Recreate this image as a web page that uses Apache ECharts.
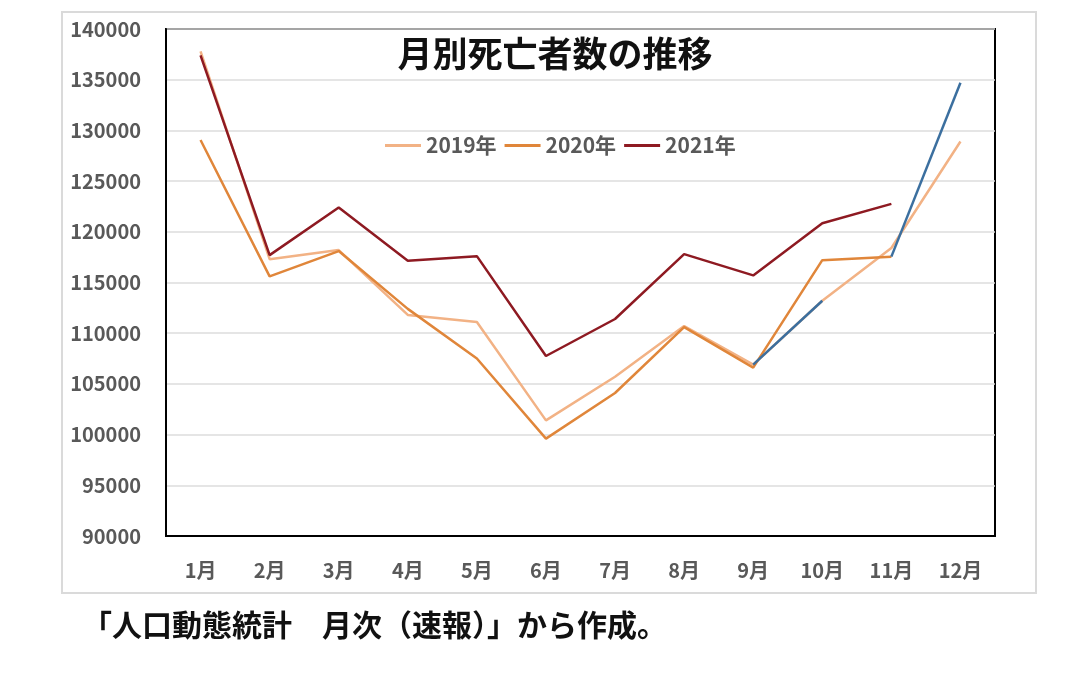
<!DOCTYPE html>
<html>
<head>
<meta charset="utf-8">
<script src="https://cdn.jsdelivr.net/npm/echarts@6/dist/echarts.min.js"></script>
<style>
  html, body { margin: 0; padding: 0; background: #fff; }
  #chart { width: 1066px; height: 696px; }
</style>
</head>
<body>
<div id="chart"></div>
<script>
// 月別死亡者数（人口動態統計 月次速報）
const months = ['1月', '2月', '3月', '4月', '5月', '6月', '7月', '8月', '9月', '10月', '11月', '12月']
const yTicks = { min: 90000, max: 140000, step: 5000 }

const deaths2019 = [137800, 117300, 118200, 111800, 111100, 101400, 105700, 110700, 106900, 113200, 118400, 128900]
const deaths2020 = [129050, 115600, 118100, 112400, 107500, 99600, 104100, 110600, 106600, 117200, 117550, null]
const deaths2021 = [137400, 117700, 122400, 117150, 117600, 107750, 111400, 117800, 115700, 120850, 122750, null]
// blue segments that are drawn on top in the original
const blueA = [null, null, null, null, null, null, null, null, 106900, 113200, null, null]
const blueB = [null, null, null, null, null, null, null, null, null, null, 117550, 134700]

const labelFont = {
  fontFamily: 'Noto Sans CJK JP',
  fontWeight: 'bold',
  fontSize: 20,
  color: '#595959'
}

function lineSeries(name, data, color, z) {
  return {
    name: name,
    type: 'line',
    data: data,
    symbol: 'none',
    z: z,
    lineStyle: { color: color, width: 2.5 },
    itemStyle: { color: color }
  }
}

const chart = echarts.init(document.getElementById('chart'))
chart.setOption({
  backgroundColor: '#fff',
  animation: false,
  title: {
    text: '月別死亡者数の推移',
    left: 550,
    top: 31,
    textAlign: 'center',
    textStyle: {
      fontFamily: 'Noto Sans CJK JP',
      fontWeight: 'bold',
      fontSize: 35,
      color: '#111'
    }
  },
  legend: {
    data: ['2019年', '2020年', '2021年'],
    left: 380,
    top: 130,
    icon: 'rect',
    itemWidth: 36,
    itemHeight: 3,
    itemGap: 8,
    textStyle: Object.assign({}, labelFont, { fontSize: 21 })
  },
  grid: {
    left: 166,
    top: 29,
    right: 71,
    bottom: 160,
    show: true,
    borderColor: '#000',
    borderWidth: 2
  },
  xAxis: {
    type: 'category',
    data: months,
    boundaryGap: true,
    axisLine: { show: true, lineStyle: { color: '#000', width: 2 } },
    axisTick: { show: false },
    axisLabel: Object.assign({ margin: 24 }, labelFont)
  },
  yAxis: {
    type: 'value',
    min: yTicks.min,
    max: yTicks.max,
    interval: yTicks.step,
    axisLine: { show: true, lineStyle: { color: '#000', width: 2 } },
    axisTick: { show: false },
    splitLine: { lineStyle: { color: '#dcdcdc', width: 1.5 } },
    axisLabel: Object.assign({ margin: 25, formatter: v => String(v) }, labelFont)
  },
  graphic: [
    {
      type: 'rect',
      shape: { x: 62, y: 12, width: 974, height: 581 },
      style: { fill: 'none', stroke: '#dadada', lineWidth: 2 },
      silent: true
    },
    {
      type: 'text',
      left: 82,
      top: 610,
      style: {
        text: '「人口動態統計　月次（速報）」から作成。',
        fontFamily: 'Noto Sans CJK JP',
        fontWeight: 'bold',
        fontSize: 30,
        fill: '#111'
      }
    }
  ],
  series: [
    lineSeries('2019年', deaths2019, '#f2b285', 3),
    lineSeries('2020年', deaths2020, '#e0863a', 4),
    lineSeries('2021年', deaths2021, '#8e1a22', 5),
    lineSeries('blueA', blueA, '#3b6f9f', 6),
    lineSeries('blueB', blueB, '#3b6f9f', 6)
  ]
})
</script>
</body>
</html>
